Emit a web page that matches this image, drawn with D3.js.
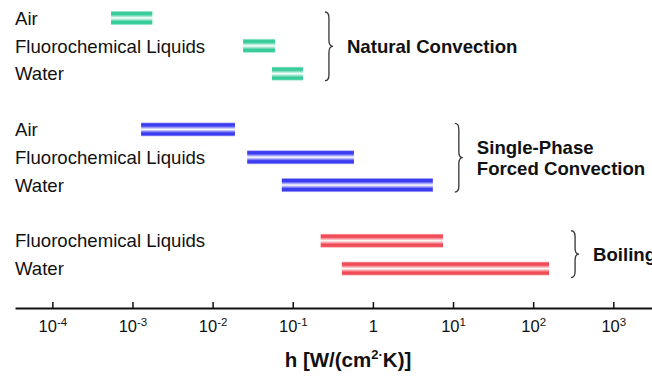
<!DOCTYPE html>
<html>
<head>
<meta charset="utf-8">
<script src="https://cdn.jsdelivr.net/npm/d3@7"></script>
<style>
  body { margin: 0; background: #fff; }
  text { font-family: "Liberation Sans", Arial, sans-serif; fill: #111; }
</style>
</head>
<body>
<svg id="svg" width="652" height="378"></svg>
<script>
// heat transfer coefficient ranges, h in W/(cm2.K)
var groupNames = [["Natural Convection"], ["Single-Phase", "Forced Convection"], ["Boiling"]];
var fluids = [
  ["Air", "Fluorochemical Liquids", "Water"],
  ["Air", "Fluorochemical Liquids", "Water"],
  ["Fluorochemical Liquids", "Water"]
];
var hLow = [
  [5.4e-4, 0.024, 0.055],
  [1.28e-3, 0.027, 0.073],
  [0.223, 0.41]
];
var hHigh = [
  [1.77e-3, 0.06, 0.134],
  [0.019, 0.58, 5.6],
  [7.5, 158]
];
var groupColors = ["#38cc9a", "#3b3bef", "#f04b56"];
var tickValues = [1e-4, 1e-3, 1e-2, 1e-1, 1, 1e1, 1e2, 1e3];

function drawChart() {
  var svg = d3.select("#svg"),
    width = +svg.attr("width"),
    axisY = 308;

  // flatten rows, put a spacer between groups
  var rows = [];
  var slots = [];
  fluids.forEach(function (list, g) {
    if (g > 0) slots.push("gap" + g);
    list.forEach(function (name, i) {
      var key = g + "-" + i;
      slots.push(key);
      rows.push({key: key, group: g, name: name, low: hLow[g][i], high: hHigh[g][i]});
    });
  });

  var x = d3.scaleLog()
    .domain([Math.pow(10, -4.466), Math.pow(10, 3.483)])
    .range([15, width]);

  var y = d3.scalePoint()
    .domain(slots)
    .range([18, 268.6]);

  var defs = svg.append("defs");
  groupColors.forEach(function (c, g) {
    var grad = defs.append("linearGradient")
      .attr("id", "grad" + g)
      .attr("x1", 0).attr("x2", 0).attr("y1", 0).attr("y2", 1);
    [[0, 0.3], [0.1, 1], [0.25, 1], [0.5, 0], [0.75, 1], [0.9, 1], [1, 0.3]].forEach(function (s) {
      grad.append("stop")
        .attr("offset", s[0])
        .attr("stop-color", s[1] === 0 ? "#ffffff" : c)
        .attr("stop-opacity", s[1] === 0 ? 1 : s[1]);
    });
  });

  var barH = 14;

  // category labels
  svg.append("g")
    .selectAll("text")
    .data(rows)
    .enter()
    .append("text")
    .attr("x", 15)
    .attr("y", function (d) { return y(d.key); })
    .attr("dy", "0.36em")
    .attr("font-size", 18.6)
    .text(function (d) { return d.name; });

  // range bars
  svg.append("g")
    .selectAll("rect")
    .data(rows)
    .enter()
    .append("rect")
    .attr("x", function (d) { return x(d.low); })
    .attr("width", function (d) { return x(d.high) - x(d.low); })
    .attr("y", function (d) { return y(d.key) - barH / 2; })
    .attr("height", barH)
    .attr("fill", function (d) { return "url(#grad" + d.group + ")"; });

  // braces + group labels
  groupNames.forEach(function (lines, g) {
    var gr = rows.filter(function (d) { return d.group === g; });
    var top = y(gr[0].key) - (gr.length > 2 ? 6 : 10);
    var bot = y(gr[gr.length - 1].key) + (gr.length > 2 ? 7 : 9);
    var mid = (top + bot) / 2;
    var bx = x(d3.max(gr, function (d) { return d.high; })) + 22;
    var w = 8, r = 6, hx = bx + w / 2;
    var p = "M" + bx + "," + top +
      "Q" + hx + "," + top + " " + hx + "," + (top + r) +
      "L" + hx + "," + (mid - r) +
      "Q" + hx + "," + mid + " " + (bx + w) + "," + mid +
      "Q" + hx + "," + mid + " " + hx + "," + (mid + r) +
      "L" + hx + "," + (bot - r) +
      "Q" + hx + "," + bot + " " + bx + "," + bot;
    svg.append("path")
      .attr("d", p)
      .attr("fill", "none")
      .attr("stroke", "#333")
      .attr("stroke-width", 1.3);

    svg.append("g")
      .selectAll("text")
      .data(lines)
      .enter()
      .append("text")
      .attr("x", bx + 22)
      .attr("y", function (d, i) { return mid + (i - (lines.length - 1) / 2) * 21; })
      .attr("dy", "0.36em")
      .attr("font-size", 18.6)
      .attr("font-weight", "bold")
      .text(function (d) { return d; });
  });

  // axis
  var axis = svg.append("g")
    .attr("transform", "translate(0," + axisY + ")")
    .call(d3.axisBottom(x)
      .tickValues(tickValues)
      .tickSizeInner(-6)
      .tickSizeOuter(0)
      .tickPadding(12));

  axis.select(".domain")
    .attr("stroke", "#111")
    .attr("stroke-width", 2.2);
  axis.selectAll(".tick line")
    .attr("stroke", "#111")
    .attr("stroke-width", 1.5);

  axis.selectAll(".tick text")
    .attr("font-size", 16.5)
    .attr("font-family", "'Liberation Sans', Arial, sans-serif")
    .attr("fill", "#111")
    .each(function (d) {
      var t = d3.select(this);
      var e = Math.round(Math.log10(d));
      t.text(null);
      if (e === 0) {
        t.append("tspan").text("1");
      } else {
        t.append("tspan").text("10");
        t.append("tspan")
          .attr("font-size", 11.5)
          .attr("dy", "-0.5em")
          .text(e);
      }
    });

  // axis title
  var title = svg.append("text")
    .attr("x", 348)
    .attr("y", 367)
    .attr("text-anchor", "middle")
    .attr("font-size", 20.5)
    .attr("font-weight", "bold");
  title.append("tspan").text("h [W/(cm");
  title.append("tspan").attr("font-size", 13).attr("dy", -8).text("2");
  title.append("tspan").attr("font-size", 13).text("\u00b7");
  title.append("tspan").attr("dy", 8).text("K)]");
}

drawChart();
</script>
</body>
</html>
